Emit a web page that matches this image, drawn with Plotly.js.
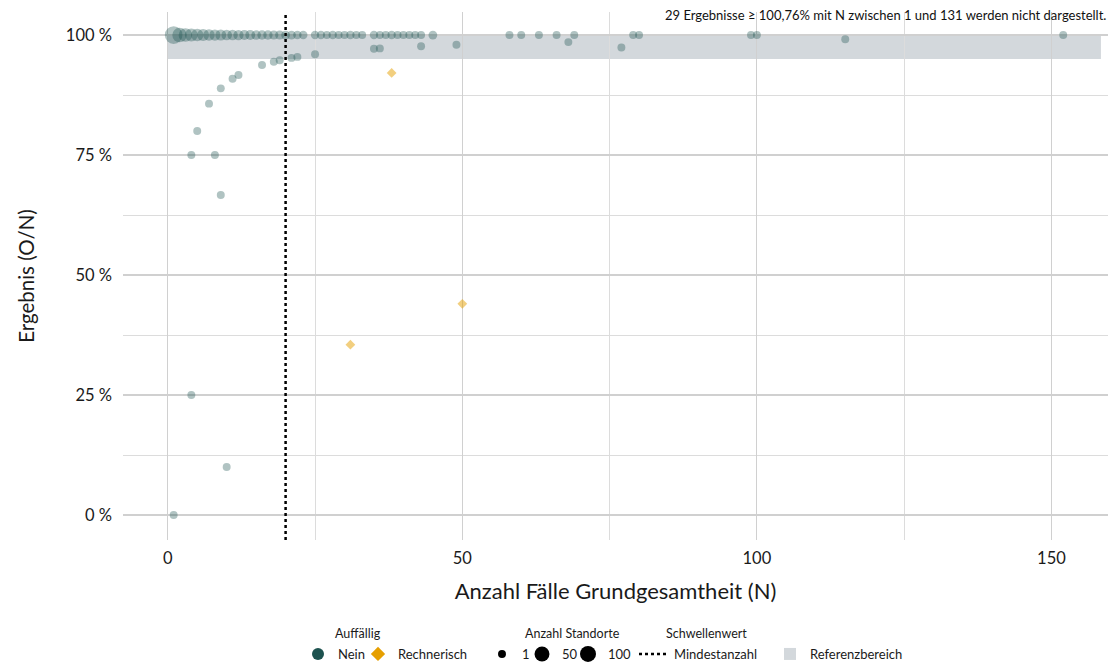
<!DOCTYPE html>
<html><head><meta charset="utf-8">
<script src="https://cdn.plot.ly/plotly-3.0.1.min.js"></script>
<style>html,body{margin:0;padding:0;background:#fff}#chart{width:1115px;height:666px}</style>
</head><body><div id="chart"></div>
<script>
// ---- data ----
const neinN = [1,2,3,4,5,6,7,8,9,10,11,12,13,14,15,16,17,18,19,20,21,22,23,
  25,26,27,28,29,30,31,32,33,35,36,37,38,39,40,41,42,43,45,58,60,63,66,69,79,80,99,100,152,
  1,4,10,4,8,9,5,7,9,11,12,16,18,19,21,22,25,35,36,43,49,68,77,115];
const neinPct = [100,100,100,100,100,100,100,100,100,100,100,100,100,100,100,100,100,100,100,100,100,100,100,
  100,100,100,100,100,100,100,100,100,100,100,100,100,100,100,100,100,100,100,100,100,100,100,100,100,100,100,100,100,
  0,25,10,75,75,66.67,80,85.71,88.89,90.91,91.67,93.75,94.44,94.74,95.24,95.45,96,97.14,97.22,97.67,97.96,98.53,97.40,99.13];
const neinSites = [90,45,35,28,24,20,17,15,13,11,10,9,8,7,6,5,5,4,4,3,3,2,2,
  2,2,1,2,1,1,2,1,1,2,1,1,2,1,1,1,1,1,3,1,1,1,1,1,1,1,1,1,1,
  1,1,1,1,1,1,1,1,1,1,1,1,1,1,1,1,1,1,1,1,1,1,1,1];
const rechN = [31,38,50];
const rechPct = [35.48,92.11,44.0];
const auffaelligLabels = ['Nein','Rechnerisch'];
const sizeLegendSites = [1,50,100];
const mindestanzahl = 20;
const refLow = 95, refHigh = 100, refXMax = 158.4;
const xTicks = [0,50,100,150];
const yTicks = [0,25,50,75,100];
const legendTitles = ['Auffällig','Anzahl Standorte','Schwellenwert'];
const noteText = "29 Ergebnisse ≥ 100,76% mit N zwischen 1 und 131 werden nicht dargestellt.";

// ---- styles ----
const FONT = "Lato, 'Open Sans', sans-serif";
const TXT = '#1a1a1a';
const teal = "rgba(29,82,79,0.5)", tealSolid = "#1d524f";
const orange = "rgba(230,159,0,0.5)", orangeSolid = "#E69F00";
const sz = s => 6.8 + 1.15*Math.sqrt(s);

// page-pixel helpers for legend placement (plot area: x 123..1108, y 12..540)
const W = 1115, H = 666;
const cx = px => px / W, cy = py => 1 - py / H;
const px2paperX = px => (px - 123) / 985, py2paperY = py => (540 - py) / 528;

const traces = [
  {x: neinN, y: neinPct, type:'scatter', mode:'markers', showlegend:false,
   marker:{color:teal, size: neinSites.map(sz), line:{width:0}}, hoverinfo:'x+y'},
  {x: rechN, y: rechPct, type:'scatter', mode:'markers', showlegend:false,
   marker:{color:orange, symbol:'diamond', size:7.5, line:{width:0}}, hoverinfo:'x+y'},
  {x:[null], y:[null], type:'scatter', mode:'markers', name:auffaelligLabels[0], legend:'legend',
   marker:{color:tealSolid, size:12}},
  {x:[null], y:[null], type:'scatter', mode:'markers', name:auffaelligLabels[1], legend:'legend5',
   marker:{color:orangeSolid, symbol:'diamond', size:11}},
];
const sizeLegIds = ['legend2','legend6','legend7'];
sizeLegendSites.forEach((s,i) => traces.push({x:[null], y:[null], type:'scatter', mode:'markers',
  name:String(s), legend:sizeLegIds[i], marker:{color:'#000', size:sz(s)}}));

const legRowTop = 639;
const leg = left => ({orientation:'h', xref:'container', yref:'container', yanchor:'top', xanchor:'left',
  x:cx(left), y:cy(legRowTop),
  font:{family:FONT, size:13, color:TXT}, bgcolor:'rgba(0,0,0,0)', tracegroupgap:0, itemsizing:'trace'});

const titleAnn = (t, px) => ({text:t, xref:'paper', yref:'paper', x:px2paperX(px), y:py2paperY(633),
  xanchor:'center', yanchor:'middle', showarrow:false, font:{size:12.5, family:FONT, color:TXT}});

const layout = {
  width:W, height:H,
  margin:{l:123, r:7, t:12, b:126},
  paper_bgcolor:'#fff', plot_bgcolor:'#fff',
  font:{family:FONT, color:TXT},
  xaxis:{range:[-7.6,159.6], tickvals:xTicks, ticktext:xTicks.map(String), showgrid:true,
    gridcolor:'#d0d0d0', gridwidth:1.2, zeroline:false, showline:false, ticks:'',
    tickfont:{size:16.5, family:FONT, color:TXT}, ticklabelstandoff:6,
    minor:{dtick:25, tick0:0, showgrid:true, gridcolor:'#dcdcdc', gridwidth:1},
    title:{text:'Anzahl Fälle Grundgesamtheit (N)', font:{size:22, family:FONT, color:TXT}, standoff:17}},
  yaxis:{range:[-5.2,104.8], tickvals:yTicks, ticktext:yTicks.map(v=>v+' %'), showgrid:true,
    gridcolor:'#d0d0d0', gridwidth:1.2, zeroline:false, showline:false, ticks:'',
    tickfont:{size:16.5, family:FONT, color:TXT}, ticklabelstandoff:10,
    minor:{dtick:12.5, tick0:0, showgrid:true, gridcolor:'#dcdcdc', gridwidth:1},
    title:{text:'Ergebnis (O/N)', font:{size:20.5, family:FONT, color:TXT}, standoff:25}},
  shapes:[
    {type:'rect', xref:'x', yref:'y', x0:0, x1:refXMax, y0:refLow, y1:refHigh, fillcolor:'#d3d8dc',
     line:{width:0}, layer:'below', showlegend:true, legend:'legend4', name:'Referenzbereich'},
    {type:'line', xref:'x', yref:'paper', x0:mindestanzahl, x1:mindestanzahl, y0:0, y1:1,
     line:{color:'#000', width:2.5, dash:'dot'}, layer:'above', showlegend:true, legend:'legend3', name:'Mindestanzahl'}
  ],
  annotations:[
    {text:noteText, xref:'paper', yref:'paper', x:1, y:1, xanchor:'right', yanchor:'top', showarrow:false,
     font:{size:13, family:FONT, color:'#111'}, yshift:7},
    titleAnn(legendTitles[0], 358), titleAnn(legendTitles[1], 572), titleAnn(legendTitles[2], 706)
  ],
  legend: leg(298),
  legend5: leg(358),
  legend2: leg(482),
  legend6: leg(522),
  legend7: leg(568),
  legend3: leg(634),
  legend4: leg(770),
  showlegend:true
};
Plotly.newPlot('chart', traces, layout, {displayModeBar:false, staticPlot:true});
</script></body></html>
